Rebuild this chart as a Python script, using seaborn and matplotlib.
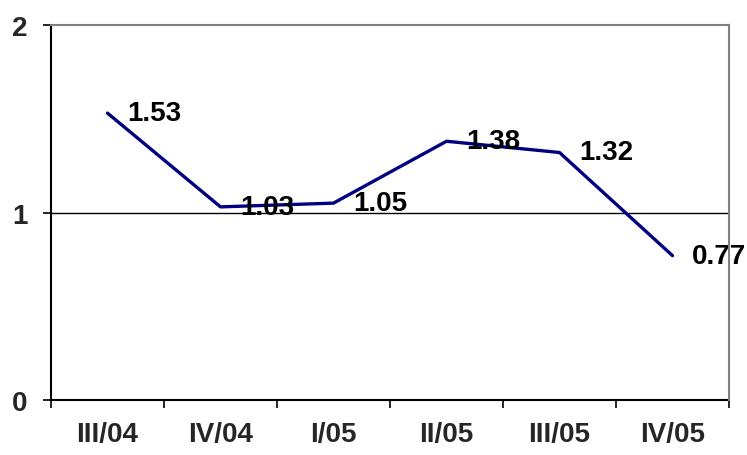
import matplotlib
matplotlib.use("Agg")
import matplotlib.pyplot as plt
import seaborn as sns
import pandas as pd

categories = ["III/04", "IV/04", "I/05", "II/05", "III/05", "IV/05"]
values = [1.53, 1.03, 1.05, 1.38, 1.32, 0.77]
y_ticks = [0, 1, 2]

sns.set_theme(style="white")
plt.rcParams['font.family'] = ['Liberation Sans', 'DejaVu Sans']

df = pd.DataFrame({"period": categories, "value": values})

fig = plt.figure(figsize=(7.47, 4.56), dpi=100)
ax = fig.add_axes([51/747, 1-401/456, (729-51)/747, (401-26)/456])

ax.axhline(1, color="black", lw=1.0, zorder=1)
sns.lineplot(data=df, x="period", y="value", sort=False, color="#000080",
             lw=2.4, ax=ax, zorder=3)

for i, v in enumerate(values):
    ax.annotate(f"{v:.2f}", (i, v), xytext=(14, 0), textcoords="offset points",
                ha="left", va="center", fontsize=20, fontweight="bold",
                color="black", zorder=4)

ax.set_xlim(-0.5, len(categories) - 0.5)
ax.set_ylim(0, 2)
ax.set_yticks(y_ticks)
ax.set_yticklabels([str(t) for t in y_ticks], fontsize=20, fontweight="bold")

ax.set_xticks([i - 0.5 for i in range(len(categories) + 1)])
ax.set_xticklabels([])
ax.set_xticks(range(len(categories)), minor=True)
ax.set_xticklabels(categories, minor=True, fontsize=20, fontweight="bold")
ax.tick_params(axis="x", which="major", direction="out", length=6, width=1.2,
               color="black", bottom=True)
ax.tick_params(axis="x", which="minor", length=0, pad=15)
ax.tick_params(axis="y", direction="out", length=6, width=1.2, color="black",
               left=True, pad=11)

ax.set_xlabel("")
ax.set_ylabel("")
for s in ["left", "bottom"]:
    ax.spines[s].set_color("black")
    ax.spines[s].set_linewidth(1.5)
for s in ["top", "right"]:
    ax.spines[s].set_visible(True)
    ax.spines[s].set_color("#808080")
    ax.spines[s].set_linewidth(1.5)
    ax.spines[s].set_zorder(5)

fig.savefig("out.png", dpi=100)
